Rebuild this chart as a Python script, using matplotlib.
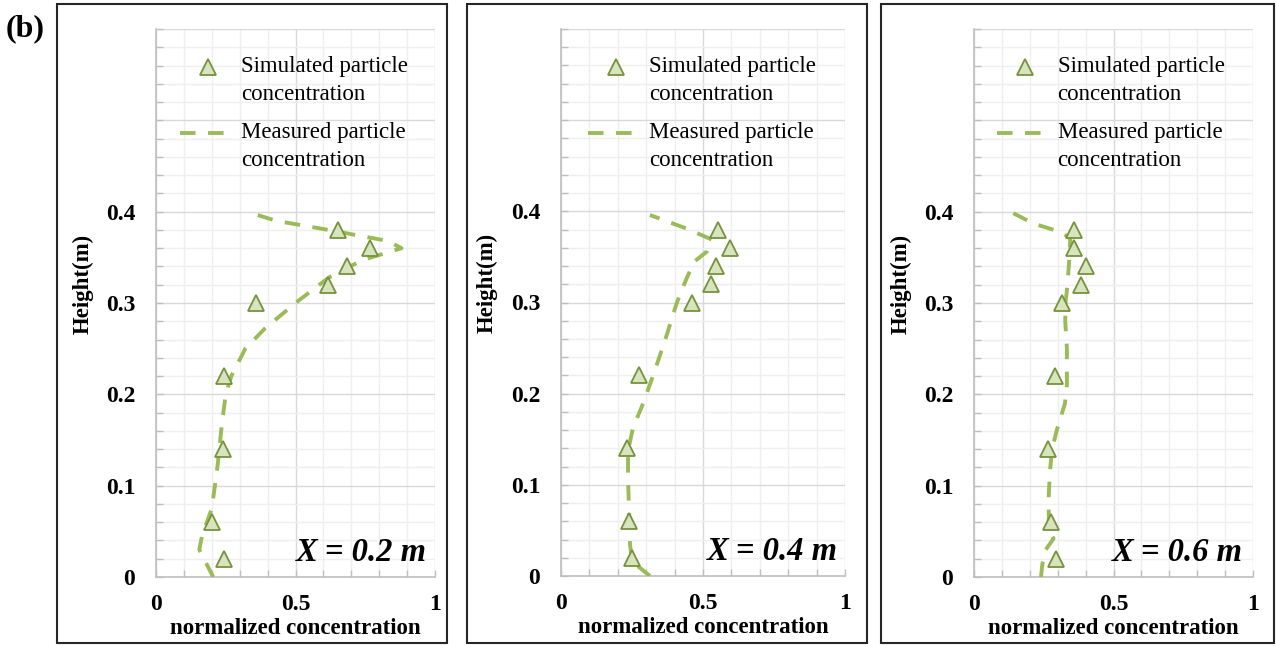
import numpy as np
import matplotlib
matplotlib.use('Agg')
import matplotlib.pyplot as plt
from matplotlib.patches import Rectangle
from matplotlib.ticker import MultipleLocator
from matplotlib.legend_handler import HandlerLine2D

plt.rcParams['font.family'] = ['Liberation Serif', 'DejaVu Serif']

# simulated points (same heights in every panel)
heights = [0.02, 0.06, 0.14, 0.22, 0.30, 0.32, 0.34, 0.36, 0.38]
sim_02 = [0.244, 0.20, 0.241, 0.244, 0.358, 0.618, 0.683, 0.767, 0.651]
sim_04 = [0.25, 0.24, 0.232, 0.275, 0.46, 0.528, 0.546, 0.595, 0.553]
sim_06 = [0.293, 0.275, 0.267, 0.29, 0.317, 0.383, 0.40, 0.36, 0.36]

# measured profiles
meas_02_x = [0.205, 0.155, 0.165, 0.20, 0.22, 0.237, 0.25, 0.27, 0.32, 0.39,
             0.50, 0.62, 0.74, 0.88, 0.83, 0.60, 0.43, 0.326]
meas_02_y = [0.0, 0.03, 0.045, 0.075, 0.12, 0.17, 0.20, 0.22, 0.25, 0.272,
             0.30, 0.328, 0.347, 0.36, 0.368, 0.381, 0.39, 0.40]
meas_04_x = [0.313, 0.25, 0.243, 0.24, 0.236, 0.236, 0.253, 0.29, 0.33, 0.373,
             0.408, 0.443, 0.47, 0.514, 0.531, 0.443, 0.313]
meas_04_y = [0.0, 0.016, 0.035, 0.068, 0.107, 0.137, 0.162, 0.19, 0.225, 0.265,
             0.30, 0.327, 0.345, 0.356, 0.369, 0.381, 0.396]
meas_06_x = [0.24, 0.245, 0.255, 0.285, 0.268, 0.268, 0.272, 0.28, 0.296, 0.326,
             0.333, 0.333, 0.327, 0.328, 0.335, 0.342, 0.345, 0.318, 0.213, 0.13]
meas_06_y = [0.0, 0.014, 0.029, 0.042, 0.052, 0.09, 0.115, 0.14, 0.16, 0.19,
             0.21, 0.25, 0.28, 0.30, 0.32, 0.35, 0.37, 0.377, 0.387, 0.40]

panel_titles = ['X = 0.2 m', 'X = 0.4 m', 'X = 0.6 m']
sims = [sim_02, sim_04, sim_06]
meas = [(meas_02_x, meas_02_y), (meas_04_x, meas_04_y), (meas_06_x, meas_06_y)]


class FirstLineHandler(HandlerLine2D):
    # puts the legend key level with the first line of a two-line label
    def __init__(self, dy, **kw):
        super().__init__(**kw)
        self.dy = dy

    def create_artists(self, legend, orig_handle, xdescent, ydescent,
                       width, height, fontsize, trans):
        return super().create_artists(legend, orig_handle, xdescent,
                                      ydescent - self.dy, width, height,
                                      fontsize, trans)


W, H = 1276, 646
fig = plt.figure(figsize=(W / 100, H / 100), dpi=100)

# axes boxes in pixels (left, right, top, bottom)
ax_px = [(156, 435, 29, 577), (561, 845, 29, 576), (974, 1253, 29, 577)]
frame_px = [(57, 447, 4, 643), (467, 867, 4, 643), (881, 1274, 4, 643)]
leg_x = [0.086, 0.095, 0.082]
lab_x = [0.50, 0.515, 0.495]

line_col = '#9bbb59'
face_col = '#d7e4bd'
edge_col = '#76923c'

for i in range(3):
    l, r, t, b = ax_px[i]
    ax = fig.add_axes([l / W, (H - b) / H, (r - l) / W, (b - t) / H])
    fl, fr, ft, fb = frame_px[i]
    fig.add_artist(Rectangle((fl / W, (H - fb) / H), (fr - fl) / W, (fb - ft) / H,
                             transform=fig.transFigure, fill=False,
                             lw=1.5, ec='#262626'))

    mx, my = meas[i]
    h1, = ax.plot(sims[i], heights, linestyle='none', marker='^', ms=11.5,
                  mfc=face_col, mec=edge_col, mew=1.3, zorder=4,
                  label='Simulated particle\nconcentration')
    h2, = ax.plot(mx, my, color=line_col, lw=2.8, dashes=(4, 3.2), zorder=3,
                  label='Measured particle\nconcentration')

    ax.set_xlim(0, 1)
    ax.set_ylim(0, 0.6)
    ax.set_xticks([0, 0.5, 1])
    ax.set_xticklabels(['0', '0.5', '1'])
    ax.set_yticks([0, 0.1, 0.2, 0.3, 0.4, 0.5, 0.6])
    ax.set_yticklabels(['0', '0.1', '0.2', '0.3', '0.4', '', ''])
    ax.xaxis.set_minor_locator(MultipleLocator(0.1))
    ax.yaxis.set_minor_locator(MultipleLocator(0.02))
    ax.grid(which='major', color='#d9d9d9', lw=1.0)
    ax.grid(which='minor', color='#efefef', lw=1.0)
    ax.set_axisbelow(True)
    for s in ['top', 'right']:
        ax.spines[s].set_visible(False)
    for s in ['left', 'bottom']:
        ax.spines[s].set_color('#bfbfbf')
        ax.spines[s].set_linewidth(1.2)
    ax.tick_params(which='both', direction='in', length=5, color='#bfbfbf',
                   width=1.0)
    ax.tick_params(axis='y', pad=15, labelsize=17)
    ax.tick_params(axis='x', pad=12, labelsize=17)
    for lb in ax.get_xticklabels() + ax.get_yticklabels():
        lb.set_fontweight('bold')

    ax.set_xlabel('normalized concentration', fontsize=16.5, fontweight='bold')
    ax.xaxis.set_label_coords(0.5, -0.075)
    ax.set_ylabel('Height(m)', fontsize=16.5, fontweight='bold')
    ax.yaxis.set_label_coords(-0.222, 0.535)

    ax.text(lab_x[i], 0.018, panel_titles[i], fontsize=23.5, fontweight='bold',
            fontstyle='italic', ha='left', va='baseline')

    leg = ax.legend(handles=[h1, h2], loc='upper left',
                    bbox_to_anchor=(leg_x[i], 0.950),
                    frameon=False, fontsize=16.5, handlelength=2.45,
                    handletextpad=0.2, labelspacing=0.75, borderpad=0,
                    borderaxespad=0,
                    handler_map={h1: FirstLineHandler(20), h2: FirstLineHandler(20)})
    for tx in leg.get_texts():
        tx.set_linespacing(1.42)

fig.text(6 / W, (H - 36) / H, '(b)', fontsize=23, fontweight='bold',
         ha='left', va='baseline')

fig.savefig('out.png', dpi=100)
